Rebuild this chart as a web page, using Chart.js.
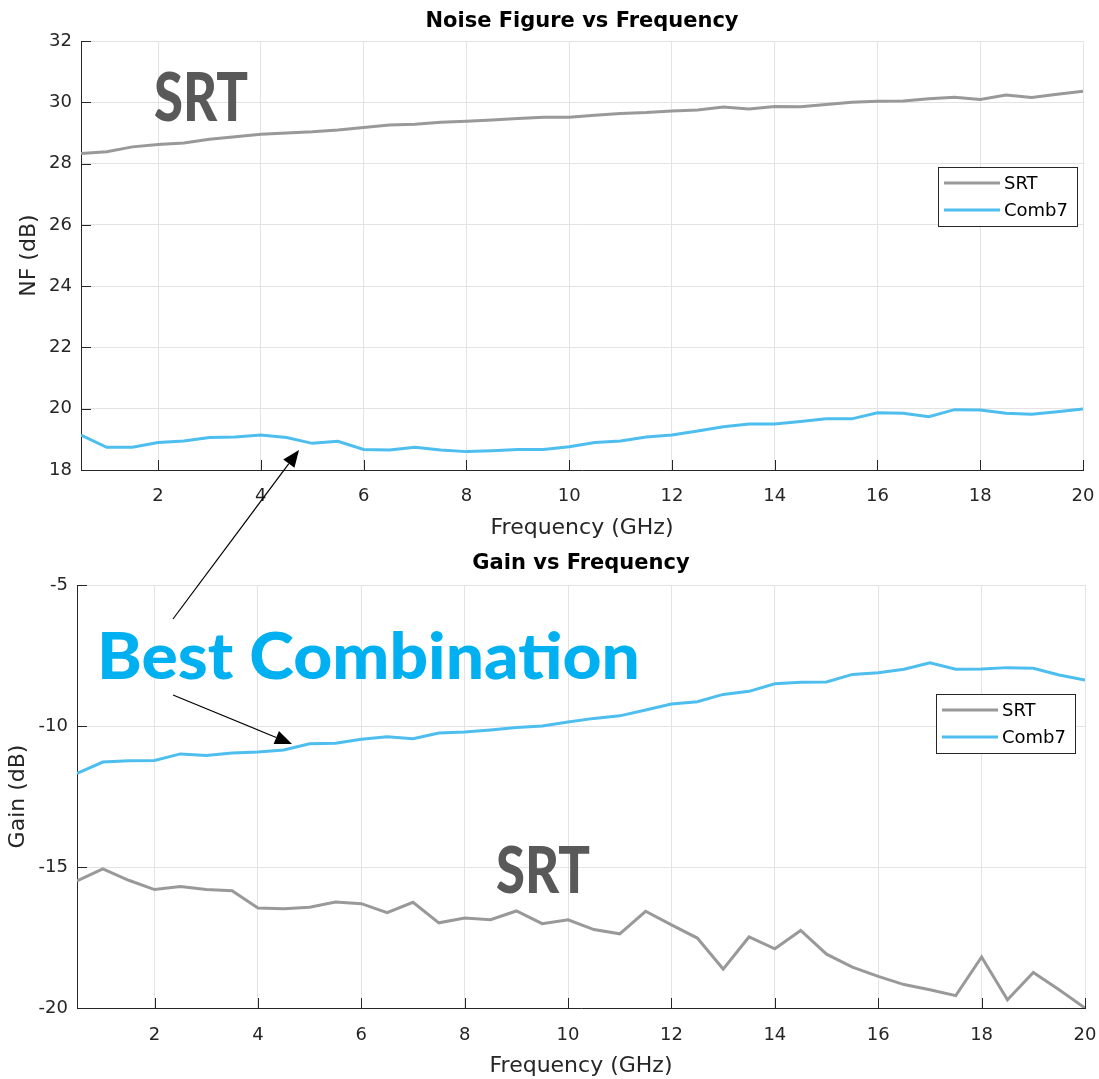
<!DOCTYPE html>
<html>
<head>
<meta charset="utf-8">
<title>NF and Gain vs Frequency</title>
<script src="https://cdn.jsdelivr.net/npm/chart.js@4.4.0/dist/chart.umd.min.js"></script>
<style>
  html, body { margin: 0; padding: 0; background: #fff; }
  #wrap { position: relative; width: 1099px; height: 1079px; overflow: hidden; }
  #nfChart { position: absolute; left: 0; top: 0; }
  #gainChart { position: absolute; left: 0; top: 545px; }
  #notes { position: absolute; left: 0; top: 0; pointer-events: none; }
</style>
</head>
<body>
<div id="wrap">
  <canvas id="nfChart" width="1099" height="545"></canvas>
  <canvas id="gainChart" width="1099" height="534"></canvas>
  <svg id="notes" width="1099" height="1079" xmlns="http://www.w3.org/2000/svg"></svg>
</div>
<script>
// Frequency points (GHz)
const freqGHz = [0.5, 1, 1.5, 2, 2.5, 3, 3.5, 4, 4.5, 5, 5.5, 6, 6.5, 7, 7.5, 8, 8.5, 9, 9.5, 10,
                 10.5, 11, 11.5, 12, 12.5, 13, 13.5, 14, 14.5, 15, 15.5, 16, 16.5, 17, 17.5, 18, 18.5, 19, 19.5, 20];

// Noise figure (dB)
const nfSRT = [28.33, 28.39, 28.55, 28.63, 28.68, 28.80, 28.88, 28.96, 29.00, 29.04, 29.10, 29.18, 29.26, 29.29, 29.35, 29.39, 29.43, 29.48, 29.52, 29.52,
               29.58, 29.64, 29.67, 29.72, 29.75, 29.85, 29.79, 29.87, 29.86, 29.93, 30.01, 30.04, 30.05, 30.12, 30.17, 30.10, 30.24, 30.16, 30.27, 30.37];
const nfComb7 = [19.14, 18.74, 18.74, 18.90, 18.95, 19.06, 19.08, 19.14, 19.06, 18.87, 18.94, 18.67, 18.65, 18.74, 18.65, 18.60, 18.63, 18.67, 18.67, 18.76,
                 18.90, 18.95, 19.08, 19.14, 19.27, 19.41, 19.50, 19.50, 19.58, 19.67, 19.67, 19.87, 19.85, 19.74, 19.97, 19.96, 19.85, 19.82, 19.90, 19.99];

// Gain (dB)
const gainSRT = [-15.49, -15.07, -15.47, -15.80, -15.69, -15.80, -15.84, -16.45, -16.48, -16.43, -16.24, -16.30, -16.62, -16.25, -16.98, -16.81, -16.87, -16.56, -17.01, -16.87,
                 -17.22, -17.37, -16.57, -17.05, -17.52, -18.62, -17.48, -17.90, -17.25, -18.09, -18.55, -18.88, -19.17, -19.35, -19.56, -18.19, -19.71, -18.74, -19.35, -20.00];
const gainComb7 = [-11.68, -11.28, -11.23, -11.22, -10.99, -11.05, -10.96, -10.92, -10.85, -10.63, -10.61, -10.47, -10.38, -10.45, -10.25, -10.21, -10.14, -10.05, -10.00, -9.86,
                   -9.73, -9.64, -9.43, -9.22, -9.14, -8.88, -8.77, -8.50, -8.45, -8.44, -8.17, -8.11, -7.99, -7.76, -7.99, -7.98, -7.93, -7.95, -8.19, -8.37];

// Tick values
const freqTicks = [2, 4, 6, 8, 10, 12, 14, 16, 18, 20];
const nfTicks = [18, 20, 22, 24, 26, 28, 30, 32];
const gainTicks = [-20, -15, -10, -5];

const FONT = 'DejaVu Sans';
const AXIS = '#262626';
const GRID = '#e3e3e3';
const GRAY = '#999999';
const BLUE = '#4DBEEE';

// MATLAB-style ticks that point into the plot
const innerTicks = {
    id: 'innerTicks',
    afterDatasetsDraw(chart) {
        const { ctx, chartArea: a, scales: { x, y } } = chart;
        ctx.save();
        ctx.strokeStyle = AXIS;
        ctx.lineWidth = 1;
        ctx.beginPath();
        x.ticks.forEach(t => {
            const px = Math.round(x.getPixelForValue(t.value)) + 0.5;
            ctx.moveTo(px, a.bottom);
            ctx.lineTo(px, a.bottom - 10);
        });
        y.ticks.forEach(t => {
            const py = Math.round(y.getPixelForValue(t.value)) + 0.5;
            ctx.moveTo(a.left, py);
            ctx.lineTo(a.left + 10, py);
        });
        ctx.stroke();
        ctx.restore();
    }
};

// Boxed legend inside the plot area
const boxLegend = {
    id: 'boxLegend',
    afterDatasetsDraw(chart, args, opts) {
        const { ctx, chartArea: a } = chart;
        const w = 139, h = 59;
        const bx = Math.round(a.right - opts.right - w);
        const by = Math.round(a.top + opts.top);
        ctx.save();
        ctx.fillStyle = '#fff';
        ctx.fillRect(bx, by, w, h);
        ctx.strokeStyle = AXIS;
        ctx.lineWidth = 1;
        ctx.strokeRect(bx + 0.5, by + 0.5, w, h);
        ctx.font = '18px "' + FONT + '"';
        ctx.textBaseline = 'middle';
        chart.data.datasets.forEach((ds, i) => {
            const ry = by + 16 + i * 27;
            ctx.strokeStyle = ds.borderColor;
            ctx.lineWidth = 3;
            ctx.beginPath();
            ctx.moveTo(bx + 6, ry);
            ctx.lineTo(bx + 62, ry);
            ctx.stroke();
            ctx.fillStyle = '#000';
            ctx.fillText(ds.label, bx + 66, ry + 1);
        });
        ctx.restore();
    }
};

Chart.register(innerTicks, boxLegend);

function toPoints(values) {
    return values.map((v, i) => ({ x: freqGHz[i], y: v }));
}

function makeChart(id, cfg) {
    return new Chart(document.getElementById(id), {
        type: 'line',
        data: {
            datasets: [
                { label: 'SRT', data: toPoints(cfg.srt), borderColor: GRAY, borderWidth: 3, pointRadius: 0, tension: 0 },
                { label: 'Comb7', data: toPoints(cfg.comb), borderColor: BLUE, borderWidth: 3, pointRadius: 0, tension: 0 }
            ]
        },
        options: {
            responsive: false,
            animation: false,
            devicePixelRatio: 1,
            layout: { padding: { top: 0, right: cfg.padRight, bottom: cfg.padBottom, left: 0 } },
            plugins: {
                legend: { display: false },
                tooltip: { enabled: false },
                title: {
                    display: true,
                    text: cfg.title,
                    fullSize: false,
                    color: '#000',
                    font: { family: FONT, size: 21, weight: 'bold' },
                    padding: cfg.titlePad
                },
                boxLegend: cfg.legend
            },
            scales: {
                x: {
                    type: 'linear',
                    min: 0.5,
                    max: 20,
                    afterBuildTicks: s => { s.ticks = freqTicks.map(v => ({ value: v })); },
                    afterFit: s => { s.height = cfg.xHeight; s.paddingLeft = 0; s.paddingRight = 0; },
                    grid: { color: GRID, drawTicks: false },
                    border: { color: AXIS, width: 1 },
                    ticks: { color: AXIS, font: { family: FONT, size: 18 }, padding: cfg.xTickPad, maxRotation: 0, autoSkip: false },
                    title: { display: true, text: 'Frequency (GHz)', color: AXIS, font: { family: FONT, size: 22 }, padding: { top: 0, bottom: 0 } }
                },
                y: {
                    type: 'linear',
                    min: cfg.yTicks[0],
                    max: cfg.yTicks[cfg.yTicks.length - 1],
                    afterBuildTicks: s => { s.ticks = cfg.yTicks.map(v => ({ value: v })); },
                    afterFit: s => { s.width = cfg.yWidth; s.paddingTop = 0; s.paddingBottom = 0; },
                    grid: { color: GRID, drawTicks: false },
                    border: { color: AXIS, width: 1 },
                    ticks: { color: AXIS, font: { family: FONT, size: 18 }, padding: 9 },
                    title: { display: true, text: cfg.yTitle, color: AXIS, font: { family: FONT, size: 22 }, padding: { top: cfg.yTitlePad, bottom: 0 } }
                }
            }
        }
    });
}

makeChart('nfChart', {
    title: 'Noise Figure vs Frequency',
    yTitle: 'NF (dB)',
    srt: nfSRT,
    comb: nfComb7,
    yTicks: nfTicks,
    titlePad: { top: 9, bottom: 7 },
    padRight: 16,
    padBottom: 4,
    xHeight: 71,
    xTickPad: 16,
    yWidth: 81,
    yTitlePad: 16,
    legend: { right: 6, top: 126 }
});

makeChart('gainChart', {
    title: 'Gain vs Frequency',
    yTitle: 'Gain (dB)',
    srt: gainSRT,
    comb: gainComb7,
    yTicks: gainTicks,
    titlePad: { top: 5.5, bottom: 9.3 },
    padRight: 14,
    padBottom: 0,
    xHeight: 71,
    xTickPad: 17,
    yWidth: 77,
    yTitlePad: 5,
    legend: { right: 10, top: 109 }
});

// Annotations: big labels and arrows
const SVGNS = 'http://www.w3.org/2000/svg';
const notes = document.getElementById('notes');

function addText(str, x, baseline, size, width, color) {
    const t = document.createElementNS(SVGNS, 'text');
    t.setAttribute('x', x);
    t.setAttribute('y', baseline);
    t.setAttribute('font-family', 'Lato, "DejaVu Sans", sans-serif');
    t.setAttribute('font-weight', '900');
    t.setAttribute('font-size', size);
    t.setAttribute('textLength', width);
    t.setAttribute('lengthAdjust', 'spacingAndGlyphs');
    t.setAttribute('fill', color);
    t.textContent = str;
    notes.appendChild(t);
}

function addArrow(x1, y1, x2, y2) {
    const ang = Math.atan2(y2 - y1, x2 - x1);
    const len = 17, half = 7;
    const bx = x2 - len * Math.cos(ang), by = y2 - len * Math.sin(ang);
    const line = document.createElementNS(SVGNS, 'line');
    line.setAttribute('x1', x1); line.setAttribute('y1', y1);
    line.setAttribute('x2', bx); line.setAttribute('y2', by);
    line.setAttribute('stroke', '#000');
    line.setAttribute('stroke-width', 1.2);
    notes.appendChild(line);
    const head = document.createElementNS(SVGNS, 'polygon');
    const px = -Math.sin(ang) * half, py = Math.cos(ang) * half;
    head.setAttribute('points', [x2, y2, bx + px, by + py, bx - px, by - py].join(' '));
    head.setAttribute('fill', '#000');
    notes.appendChild(head);
}

addText('SRT', 154, 121, 67, 94, '#595959');
addText('SRT', 496, 893, 64, 94, '#595959');
addText('Best Combination', 97, 679, 64, 543, '#00B0F0');
addArrow(173, 619, 299, 450);
addArrow(173, 695, 292, 744);
</script>
</body>
</html>
